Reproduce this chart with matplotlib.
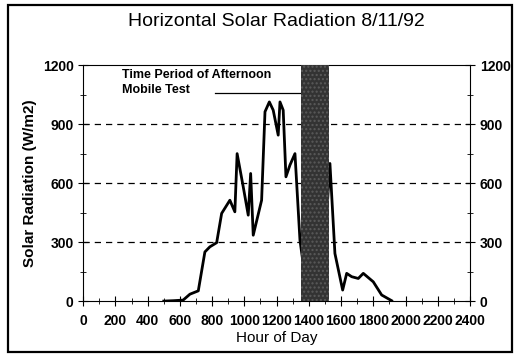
import matplotlib.pyplot as plt
from matplotlib.patches import Rectangle
from matplotlib.ticker import MultipleLocator

plt.rcParams['font.family'] = ['Liberation Sans', 'DejaVu Sans']

# Data
hour = [500, 560, 620, 662, 714, 755, 786, 828, 859, 910, 941, 955, 993, 1024,
        1039, 1055, 1107, 1128, 1155, 1179, 1210, 1221, 1241, 1258, 1283, 1314,
        1345, 1380, 1440, 1500, 1531, 1562, 1610, 1635, 1666, 1707, 1738, 1800,
        1852, 1914]
radiation = [0, 2, 5, 35, 52, 250, 276, 297, 446, 513, 454, 750, 581, 437,
             649, 335, 513, 963, 1013, 971, 844, 1013, 971, 632, 692, 750,
             310, 100, 150, 300, 700, 242, 56, 141, 124, 115, 141, 98,
             31, 2]
test_start, test_end = 1350, 1525
yticks = [0, 300, 600, 900, 1200]
xticks = list(range(0, 2401, 200))

fig = plt.figure(figsize=(5.17, 3.58), dpi=100)
ax = fig.add_axes([0.161, 0.159, 0.748, 0.659])

ax.plot(hour, radiation, color='black', lw=2.0, zorder=2)
ax.axvspan(test_start, test_end, facecolor='#333333', edgecolor='#5a5a5a',
           hatch='....', lw=0, zorder=3)

for y in yticks[1:-1]:
    ax.axhline(y, color='black', lw=0.9, ls=(0, (5, 4)), zorder=1)

ax.set_xlim(0, 2400)
ax.set_ylim(0, 1200)
ax.set_xticks(xticks)
ax.set_yticks(yticks)
ax.xaxis.set_minor_locator(MultipleLocator(100))
ax.yaxis.set_minor_locator(MultipleLocator(150))
ax.tick_params(axis='both', which='both', direction='inout', labelsize=10,
               right=True, labelright=True)
ax.tick_params(which='major', length=7)
ax.tick_params(which='minor', length=5)
ax.tick_params(axis='x', pad=6)
for lbl in ax.get_xticklabels() + ax.get_yticklabels():
    lbl.set_fontweight('bold')

ax.set_xlabel('Hour of Day', fontsize=11, labelpad=2)
ax.set_ylabel('Solar Radiation (W/m2)', fontsize=11, fontweight='bold')
ax.set_title('Horizontal Solar Radiation 8/11/92', fontsize=14, pad=28)

ax.text(242, 1178, 'Time Period of Afternoon\nMobile Test', fontsize=9,
        fontweight='bold', va='top', ha='left', linespacing=1.3)
ax.plot([819, test_start], [1058, 1058], color='black', lw=0.9)

fig.patches.append(Rectangle((0.016, 0.017), 0.975, 0.968, transform=fig.transFigure,
                             fill=False, edgecolor='black', lw=1.6))

fig.savefig('out.png', dpi=100)
